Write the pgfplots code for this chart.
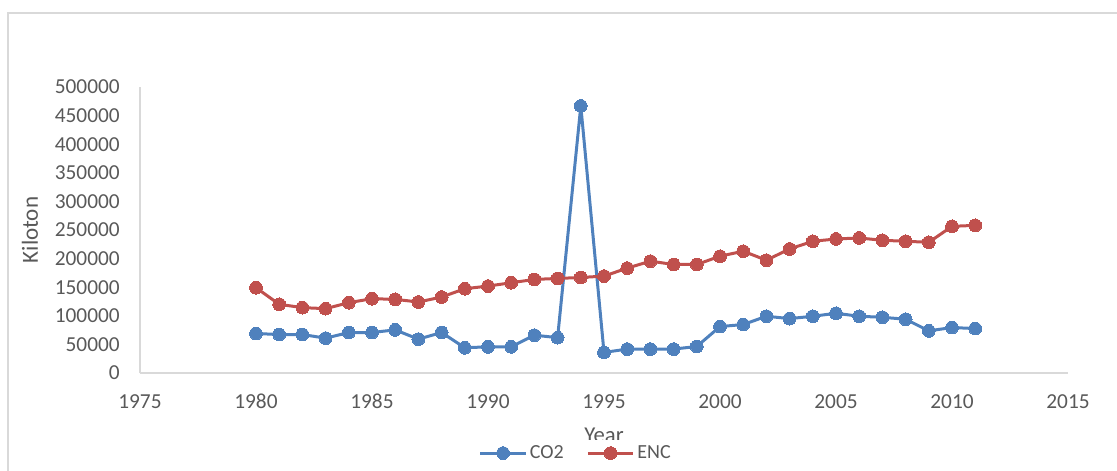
\documentclass[border=0pt]{standalone}
\usepackage{fontspec}
\setmainfont{Carlito}
\usepackage{pgfplots}
\pgfplotsset{compat=1.18}

\definecolor{xlblue}{HTML}{4F81BD}
\definecolor{xlred}{HTML}{C0504D}
\definecolor{xlgrid}{HTML}{D9D9D9}
\definecolor{xltext}{HTML}{595959}

\begin{document}
\begin{tikzpicture}
% chart area: 1117x471 px at 0.75 pt per px, axis origin at (140px,373px)
\useasboundingbox (-105pt,-73.5pt) rectangle (732.75pt,279.75pt);
\draw[xlgrid, line width=1pt] (-99pt,-80pt) -- (-99pt,270pt) -- (740pt,270pt);
\begin{axis}[
    at={(0pt,0pt)}, anchor=origin,
    scale only axis,
    width=696pt, height=214.5pt,
    xmin=1975, xmax=2015,
    ymin=0, ymax=500000,
    xtick distance=5,
    ytick distance=50000,
    axis x line*=bottom,
    axis y line*=left,
    axis line style={xlgrid, line width=0.9pt},
    major tick length=0pt,
    scaled y ticks=false,
    clip=false,
    /pgf/number format/assume math mode=true,
    /pgf/number format/1000 sep={},
    /pgf/number format/fixed,
    tick label style={font=\fontsize{16}{19}\selectfont, text=xltext},
    yticklabel style={anchor=east, inner sep=0pt, xshift=-15pt},
    xticklabel style={anchor=base, inner sep=0pt, yshift=-26.5pt},
    xlabel={Year},
    ylabel={Kiloton},
    every axis x label/.style={at={(axis description cs:0.5,-0.2424)}, anchor=base,
        font=\fontsize{17}{20}\selectfont, text=xltext},
    every axis y label/.style={at={(axis description cs:-0.1185,0.5)}, rotate=90, anchor=center,
        font=\fontsize{17.3}{20}\selectfont, text=xltext},
    legend columns=2,
    legend style={at={(axis description cs:0.47,-0.28)}, anchor=center, draw=none,
        font=\fontsize{15}{18}\selectfont, text=xltext,
        /tikz/every even column/.append style={column sep=15pt}},
    legend image code/.code={%
        \draw[mark repeat=2, mark phase=2, #1] plot coordinates {(0pt,0pt) (17pt,0pt) (34pt,0pt)};},
]
\addplot[xlblue, line width=2.25pt, mark=*, mark size=4.8pt, mark options={solid, fill=xlblue, draw=xlblue, line width=0pt}]
coordinates {
(1980,69000) (1981,67300) (1982,67300) (1983,60900) (1984,70800) (1985,70800)
(1986,75400) (1987,59200) (1988,70800) (1989,44100) (1990,45800) (1991,45800)
(1992,66100) (1993,61800) (1994,466900) (1995,36000) (1996,41800) (1997,41800)
(1998,41800) (1999,46400) (2000,81200) (2001,84700) (2002,99200) (2003,95100)
(2004,99200) (2005,104400) (2006,99200) (2007,97400) (2008,94000) (2009,73700)
(2010,79500) (2011,77700)
};
\addplot[xlred, line width=2.25pt, mark=*, mark size=4.8pt, mark options={solid, fill=xlred, draw=xlred, line width=0pt}]
coordinates {
(1980,149100) (1981,120100) (1982,114300) (1983,112500) (1984,123000) (1985,129900)
(1986,128800) (1987,124100) (1988,132800) (1989,147300) (1990,152000) (1991,157800)
(1992,163600) (1993,165300) (1994,167000) (1995,169400) (1996,183300) (1997,195500)
(1998,189700) (1999,189700) (2000,204200) (2001,212900) (2002,197200) (2003,216900)
(2004,230300) (2005,234300) (2006,236100) (2007,232000) (2008,230300) (2009,228500)
(2010,256400) (2011,258100)
};
\legend{CO2, ENC}
\end{axis}
\end{tikzpicture}
\end{document}
